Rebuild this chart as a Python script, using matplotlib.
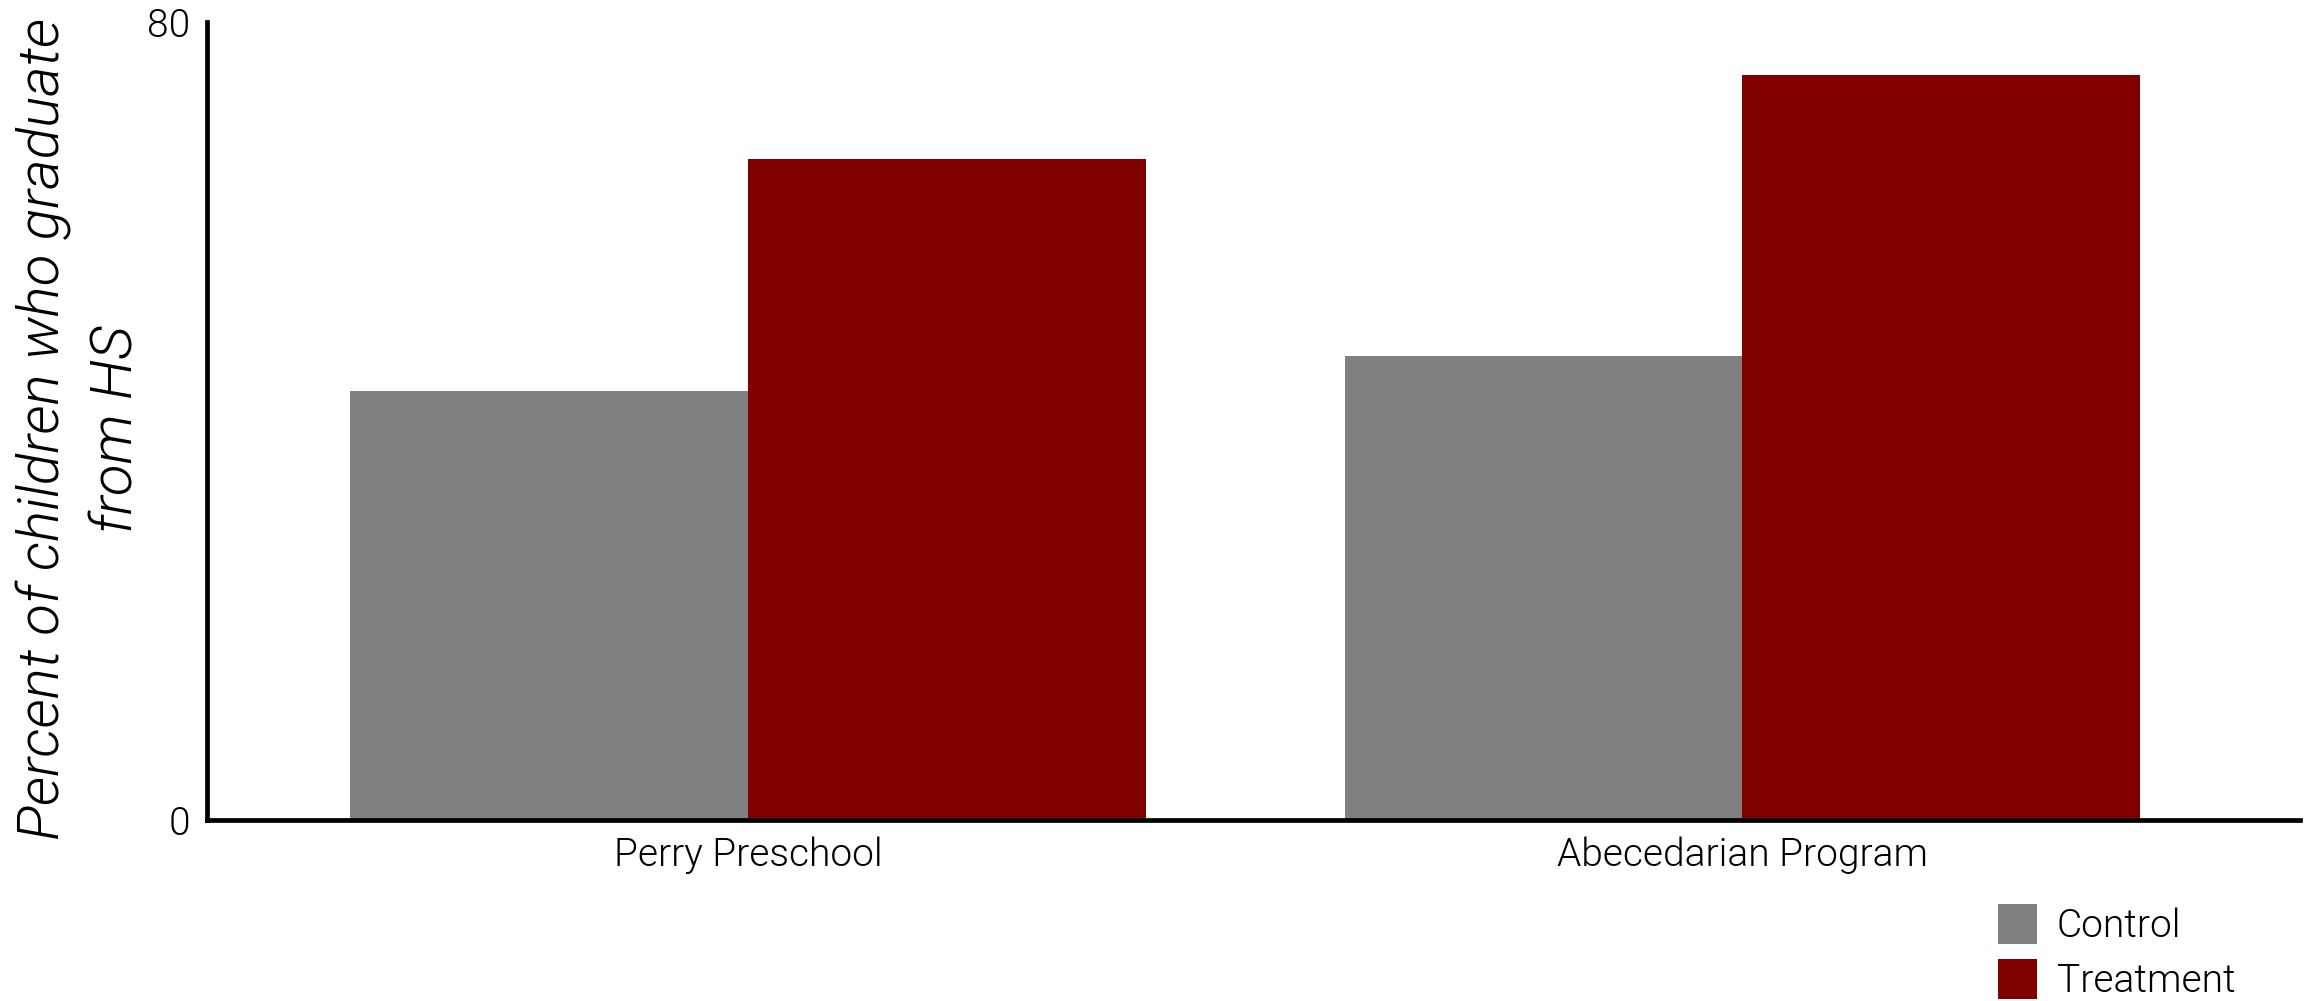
import matplotlib.pyplot as plt
import numpy as np

programs = ['Perry Preschool', 'Abecedarian Program']
control = [43, 46.5]
treatment = [66.3, 74.7]
series_names = ['Control', 'Treatment']
yticks = [0, 80]

plt.rcParams['font.family'] = ['Roboto', 'DejaVu Sans']

fig = plt.figure(figsize=(23.13, 10.01), dpi=100)
ax = fig.add_axes([0.0895, 0.181, 0.905, 0.797])

x = np.arange(len(programs))
w = 0.4
ax.bar(x - w / 2, control, w, color='#808080', label=series_names[0])
ax.bar(x + w / 2, treatment, w, color='#800000', label=series_names[1])

ax.set_xlim(-0.544, 1.561)
ax.set_ylim(0, 80)
ax.set_yticks(yticks)
ax.set_xticks(x)
ax.set_xticklabels(programs)
ax.tick_params(length=0, labelsize=28, pad=12, colors='black')
for lbl in ax.get_xticklabels() + ax.get_yticklabels():
    lbl.set_fontweight(300)

for s in ['top', 'right']:
    ax.spines[s].set_visible(False)
for s in ['left', 'bottom']:
    ax.spines[s].set_linewidth(3.4)

ax.set_ylabel('Percent of children who graduate\nfrom HS', fontsize=42,
              fontstyle='italic', fontweight=300, linespacing=1.4, labelpad=2)
ax.yaxis.label.set_y(0.49)

ax.legend(loc='upper left', bbox_to_anchor=(0.839, -0.062), frameon=False,
          prop={'size': 28, 'weight': 300}, handlelength=1.0, handleheight=1.2,
          handletextpad=0.5, labelspacing=0.35)

fig.savefig('out.png', dpi=100)
